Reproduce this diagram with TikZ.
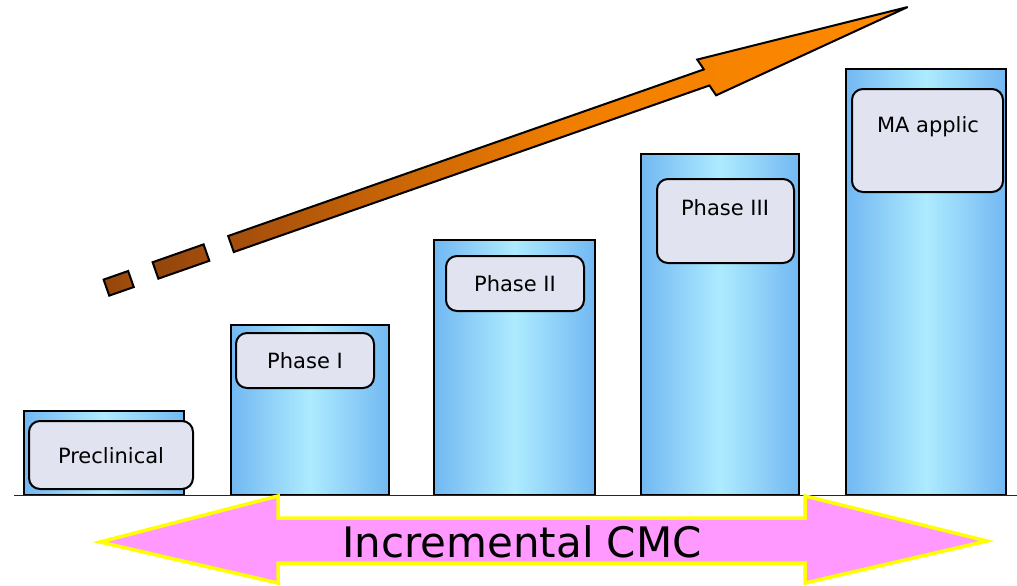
\documentclass[tikz,border=0pt]{standalone}
\usepackage{fontspec}
\setmainfont{DejaVu Sans}
\definecolor{barEdge}{HTML}{72B8F2}
\definecolor{barMid}{HTML}{AEEBFF}
\definecolor{boxFill}{HTML}{E1E3F1}
\definecolor{arrOrange}{HTML}{FF8A00}
\definecolor{arrMid}{HTML}{F07E00}
\definecolor{arrBrown}{HTML}{A34D0C}
\definecolor{cmcPink}{HTML}{FF99FF}
\definecolor{cmcYellow}{HTML}{FFFF00}
\begin{document}
\begin{tikzpicture}[x=1pt,y=-1pt,
  bar/.style={draw=black,line width=2.2pt,left color=barEdge,right color=barEdge,middle color=barMid},
  lblbox/.style={draw=black,line width=2pt,fill=boxFill,rounded corners=11pt},
  txt/.style={font=\fontsize{21}{24}\selectfont,inner sep=0pt,anchor=center},
  dashbox/.style={draw=black,line width=2pt,left color=arrBrown!90!black,right color=arrBrown},
  bigtxt/.style={font=\fontsize{42}{48}\selectfont,inner sep=0pt,anchor=base}]
\useasboundingbox (0,0) rectangle (1017,586);
% bars
\path[bar] (24,411) rectangle (184,495);
\path[bar] (231,325) rectangle (389,495);
\path[bar] (434,240) rectangle (595,495);
\path[bar] (641,154) rectangle (799,495);
\path[bar] (846,69) rectangle (1006,495);
\draw[line width=1pt,black!85] (14,495) -- (1017,495);
% label boxes
\path[lblbox] (29,421) rectangle (193,489);
\node[txt] (pre) at (111,456) {Preclinical};
\path[lblbox] (236,333) rectangle (374,388);
\node[txt] (p1) at (305,361) {Phase I};
\path[lblbox] (446,256) rectangle (584,311);
\node[txt] (p2) at (515,284) {Phase II};
\path[lblbox] (657,179) rectangle (794,263);
\node[txt] (p3) at (725,208) {Phase III};
\path[lblbox] (852,89) rectangle (1003,192);
\node[txt] (ma) at (928,127) {MA applic};
% orange rising arrow
\begin{scope}[shift={(231,244)},rotate=19.3]
  \path[dashbox] (-132,-8.5) rectangle (-106,8.5);
  \path[dashbox] (-80,-8.7) rectangle (-26,8.7);
  \path[draw=black,line width=2pt,line join=miter,left color=arrBrown,right color=arrOrange,middle color=arrMid]
    (0,-8.5) -- (504,-8.5) -- (501,-20) -- (717,0) -- (507,20) -- (504,8.5) -- (0,8.5) -- cycle;
\end{scope}
% double arrow
\path[draw=cmcYellow,line width=3.5pt,fill=cmcPink,line join=miter]
  (100,542) -- (278,496) -- (278,518) -- (805,518) -- (805,496) -- (987,541)
  -- (805,583) -- (805,563) -- (278,563) -- (278,583) -- cycle;
\node[bigtxt] (cmc) at (522,557) {Incremental CMC};
\end{tikzpicture}
\end{document}
